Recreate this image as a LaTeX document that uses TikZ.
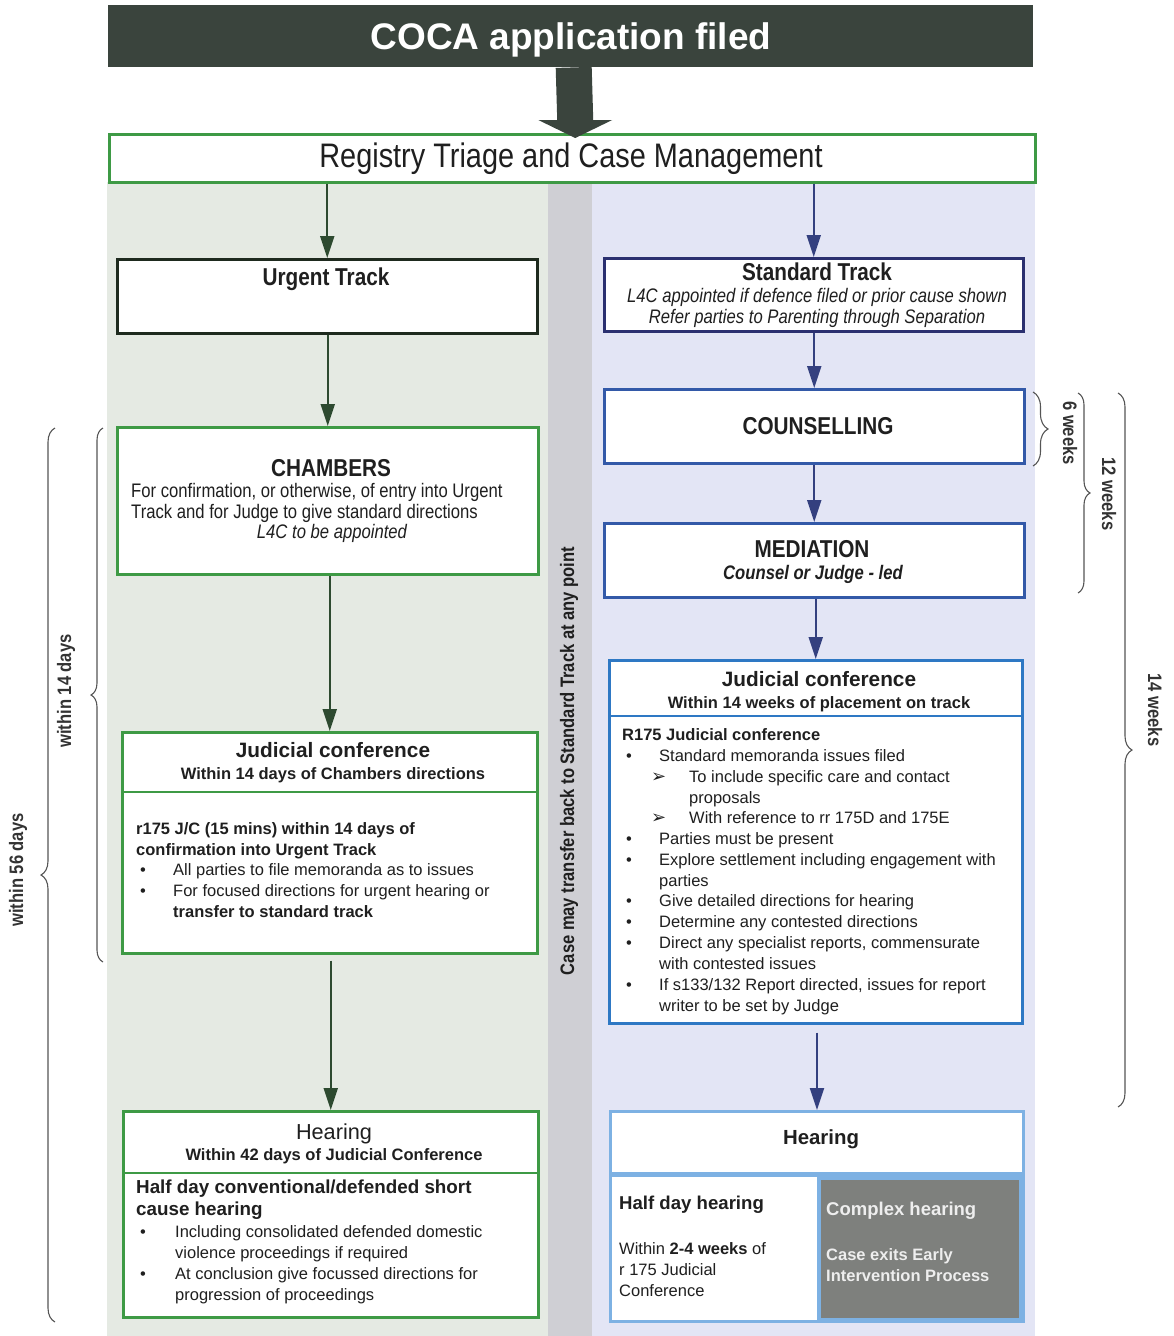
\documentclass[tikz,border=0pt]{standalone}
\usepackage{fontspec}
\setmainfont{Liberation Sans}
\newfontfamily\narrow[FakeStretch=0.85]{Liberation Sans}
\newfontfamily\dingfont{DejaVu Sans}
\usetikzlibrary{arrows.meta,decorations.pathreplacing}
\definecolor{leftbg}{HTML}{E5EAE3}
\definecolor{midbg}{HTML}{CFCFD4}
\definecolor{rightbg}{HTML}{E3E5F5}
\definecolor{headc}{HTML}{3A443D}
\definecolor{greenb}{HTML}{3E9A45}
\definecolor{darkg}{HTML}{2D4A30}
\definecolor{urgb}{HTML}{1E2A1E}
\definecolor{navy}{HTML}{2B3070}
\definecolor{navyarr}{HTML}{34407F}
\definecolor{blueb}{HTML}{3359A8}
\definecolor{jcb}{HTML}{2E78C4}
\definecolor{hearb}{HTML}{7DB1E3}
\definecolor{cplx}{HTML}{7E807D}
\definecolor{txtc}{HTML}{1F1F1F}
\definecolor{bracec}{HTML}{555555}
\definecolor{cplxtxt}{HTML}{EEEEEE}
\newcommand\fsz[2]{\fontsize{#1}{#2}\selectfont}
\begin{document}
\begin{tikzpicture}[x=1pt,y=-1pt,
  box/.style={draw, fill=white, line width=2.5pt, anchor=north west, inner sep=0pt},
  txt/.style={inner sep=0pt, text=txtc, font=\fsz{16.5}{21}},
  tl/.style={txt, anchor=base west},
  tc/.style={txt, anchor=base},
  bodyb/.style={font=\bfseries\fsz{16.5}{21}},
  ttl/.style={font=\bfseries\fsz{20.8}{24}},
  nttl/.style={font=\narrow\bfseries\fsz{24.4}{26}},
  nbody/.style={font=\narrow\fsz{19.6}{21}},
  arrG/.style={draw=darkg, line width=2pt, -{Triangle[width=14pt,length=22pt]}},
  arrB/.style={draw=navyarr, line width=2pt, -{Triangle[width=14pt,length=22pt]}},
  brc/.style={draw=bracec, line width=1.1pt, decorate},
  brl/.style={inner sep=0pt, text=black!80, font=\narrow\bfseries\fsz{19.5}{20}},
  sub/.style={txt, anchor=base west, font=\dingfont\fsz{18}{21}},
]
\useasboundingbox (0,0) rectangle (1173,1336);
% backgrounds
\fill[leftbg] (107,182) rectangle (548,1336);
\fill[midbg] (548,182) rectangle (592,1336);
\fill[rightbg] (592,182) rectangle (1035,1336);

% header
\node[fill=headc, minimum width=925, minimum height=62, anchor=north west, inner sep=0pt] (header) at (108,5) {};
\node[inner sep=0pt, text=white, font=\bfseries\fsz{37}{40}, anchor=base] (headt) at (571,49) {COCA application filed};

% registry
\node[box, draw=greenb, minimum width=926, minimum height=48] (registry) at (108,133) {};
\node[tc, font=\narrow\fsz{34}{36}] (registryt) at (571,167) {Registry Triage and Case Management};

% big arrow
\coordinate (atip) at ([xshift=3pt,yshift=-5pt]registry.north);
\draw[headc, line width=36pt] ([xshift=3pt]header.south) -- ([yshift=17pt]atip);
\fill[headc] (atip) -- ++(-37,-18) -- ++(74,0) -- cycle;

% ---------- left column ----------
\node[box, draw=urgb, minimum width=420, minimum height=74] (urgent) at (116,258) {};
\node[tc, nttl] (urgentt) at (326,285) {Urgent Track};

\node[box, draw=greenb, minimum width=421, minimum height=147] (chambers) at (116,426) {};
\node[tc, nttl] (chamt) at (331,476) {CHAMBERS};
\node[tl, nbody] (cham1) at (131,497) {For confirmation, or otherwise, of entry into Urgent};
\node[tl, nbody] (cham2) at (131,518) {Track and for Judge to give standard directions};
\node[tc, nbody, font=\narrow\itshape\fsz{19.6}{21}] (cham3) at (332,538) {L4C to be appointed};

\node[box, draw=greenb, minimum width=415, minimum height=221] (jcl) at (121,731) {};
\draw[greenb, line width=2.5pt] (121,792) -- (536,792);
\node[tc, ttl] (jclt) at (333,757) {Judicial conference};
\node[tc, bodyb] (jcls) at (333,779) {Within 14 days of Chambers directions};
\node[tl, bodyb] (jcl1) at (136,834) {r175 J/C (15 mins) within 14 days of};
\node[tl, bodyb] (jcl2) at (136,855) {confirmation into Urgent Track};
\node[tl] (jcl3b) at (140,875) {•};
\node[tl] (jcl3) at (173,875) {All parties to file memoranda as to issues};
\node[tl] (jcl4b) at (140,896) {•};
\node[tl] (jcl4) at (173,896) {For focused directions for urgent hearing or};
\node[tl, bodyb] (jcl5) at (173,917) {transfer to standard track};

\node[box, draw=greenb, minimum width=415, minimum height=206] (hearl) at (122,1110) {};
\draw[greenb, line width=2.5pt] (122,1173) -- (537,1173);
\node[tc, font=\fsz{21.7}{24}] (hearlt) at (334,1139) {Hearing};
\node[tc, bodyb] (hearls) at (334,1160) {Within 42 days of Judicial Conference};
\node[tl, font=\bfseries\fsz{18.8}{22}] (hearl1) at (136,1193) {Half day conventional/defended short};
\node[tl, font=\bfseries\fsz{18.8}{22}] (hearl2) at (136,1215) {cause hearing};
\node[tl] (hearl3b) at (140,1237) {•};
\node[tl] (hearl3) at (175,1237) {Including consolidated defended domestic};
\node[tl] (hearl4) at (175,1258) {violence proceedings if required};
\node[tl] (hearl5b) at (140,1279) {•};
\node[tl] (hearl5) at (175,1279) {At conclusion give focussed directions for};
\node[tl] (hearl6) at (175,1300) {progression of proceedings};

\draw[arrG] (registry.south -| urgent.north) -- (urgent.north);
\draw[arrG] (urgent.south -| chambers.north) -- (chambers.north);
\draw[arrG] (chambers.south -| jcl.north) -- (jcl.north);
\draw[arrG, shorten <=6pt] (jcl.south -| hearl.north) -- (hearl.north);

% ---------- middle strip ----------
\node[inner sep=0pt, rotate=90, text=txtc, font=\narrow\bfseries\fsz{19.5}{20}] (midt) at (569,761) {Case may transfer back to Standard Track at any point};

% ---------- right column ----------
\node[box, draw=navy, minimum width=419, minimum height=73] (std) at (603,257) {};
\node[tc, nttl] (stdt) at (817,280) {Standard Track};
\node[tc, font=\narrow\itshape\fsz{19.6}{21}] (std1) at (817,302) {L4C appointed if defence filed or prior cause shown};
\node[tc, font=\narrow\itshape\fsz{19.6}{21}] (std2) at (817,323) {Refer parties to Parenting through Separation};

\node[box, draw=blueb, minimum width=420, minimum height=74] (couns) at (603,388) {};
\node[tc, nttl] (counst) at (818,434) {COUNSELLING};

\node[box, draw=blueb, minimum width=420, minimum height=74] (med) at (603,522) {};
\node[tc, nttl] (medt) at (812,557) {MEDIATION};
\node[tc, font=\narrow\bfseries\itshape\fsz{19.6}{21}] (meds) at (813,579) {Counsel or Judge - led};

\node[box, draw=jcb, minimum width=413, minimum height=363] (jcr) at (608,659) {};
\draw[jcb, line width=2.5pt] (608,716) -- (1021,716);
\node[tc, ttl] (jcrt) at (819,686) {Judicial conference};
\node[tc, bodyb] (jcrs) at (819,708) {Within 14 weeks of placement on track};
\node[tl, bodyb] (jcr0) at (622,740) {R175 Judicial conference};
\node[tl] (jcr1b) at (626,761) {•};
\node[tl] (jcr1) at (659,761) {Standard memoranda issues filed};
\node[sub] (jcr2b) at (651,782) {➢};
\node[tl] (jcr2) at (689,782) {To include specific care and contact};
\node[tl] (jcr3) at (689,803) {proposals};
\node[sub] (jcr4b) at (651,823) {➢};
\node[tl] (jcr4) at (689,823) {With reference to rr 175D and 175E};
\node[tl] (jcr5b) at (626,844) {•};
\node[tl] (jcr5) at (659,844) {Parties must be present};
\node[tl] (jcr6b) at (626,865) {•};
\node[tl] (jcr6) at (659,865) {Explore settlement including engagement with};
\node[tl] (jcr7) at (659,886) {parties};
\node[tl] (jcr8b) at (626,906) {•};
\node[tl] (jcr8) at (659,906) {Give detailed directions for hearing};
\node[tl] (jcr9b) at (626,927) {•};
\node[tl] (jcr9) at (659,927) {Determine any contested directions};
\node[tl] (jcr10b) at (626,948) {•};
\node[tl] (jcr10) at (659,948) {Direct any specialist reports, commensurate};
\node[tl] (jcr11) at (659,969) {with contested issues};
\node[tl] (jcr12b) at (626,990) {•};
\node[tl] (jcr12) at (659,990) {If s133/132 Report directed, issues for report};
\node[tl] (jcr13) at (659,1011) {writer to be set by Judge};

\node[box, draw=hearb, line width=3pt, minimum width=413, minimum height=210] (hearr) at (609,1110) {};
\draw[hearb, line width=5pt] (609,1174) -- (1022,1174);
\node[draw=hearb, fill=cplx, line width=3.5pt, minimum width=202, minimum height=142, anchor=north west, inner sep=0pt] (cplxbox) at (817,1176) {};
\node[tc, ttl, font=\bfseries\fsz{20.4}{24}] (hearrt) at (821,1144) {Hearing};
\node[tl, font=\bfseries\fsz{18.6}{22}] (hr1) at (619,1209) {Half day hearing};
\node[tl] (hr2) at (619,1254) {Within \textbf{2-4 weeks} of};
\node[tl] (hr3) at (619,1275) {r 175 Judicial};
\node[tl] (hr4) at (619,1296) {Conference};
\node[tl, text=cplxtxt, font=\bfseries\fsz{18.5}{22}] (cx1) at (826,1215) {Complex hearing};
\node[tl, text=cplxtxt, bodyb] (cx2) at (826,1260) {Case exits Early};
\node[tl, text=cplxtxt, bodyb] (cx3) at (826,1281) {Intervention Process};

\draw[arrB] (registry.south -| std.north) -- (std.north);
\draw[arrB] (std.south -| couns.north) -- (couns.north);
\draw[arrB] (couns.south -| med.north) -- (med.north);
\draw[arrB] (med.south -| jcr.north) -- (jcr.north);
\draw[arrB, shorten <=8pt] (jcr.south -| hearr.north) -- (hearr.north);

% ---------- braces ----------
\draw[brc, decoration={brace, amplitude=14pt}] (55,1322) -- (55,428);
\node[brl, rotate=90] (b56) at (18,870) {within 56 days};
\draw[brc, decoration={brace, amplitude=12pt}] (103,962) -- (103,428);
\node[brl, rotate=90] (b14) at (66,691) {within 14 days};

\draw[brc, decoration={brace, amplitude=15pt}] (1033,392) -- (1033,466);
\node[brl, rotate=-90] (w6) at (1070,433) {6 weeks};
\draw[brc, decoration={brace, amplitude=12pt}] (1078,393) -- (1078,593);
\node[brl, rotate=-90] (w12) at (1109,494) {12 weeks};
\draw[brc, decoration={brace, amplitude=14pt}] (1118,393) -- (1118,1107);
\node[brl, rotate=-90] (w14) at (1155,710) {14 weeks};
\end{tikzpicture}
\end{document}
